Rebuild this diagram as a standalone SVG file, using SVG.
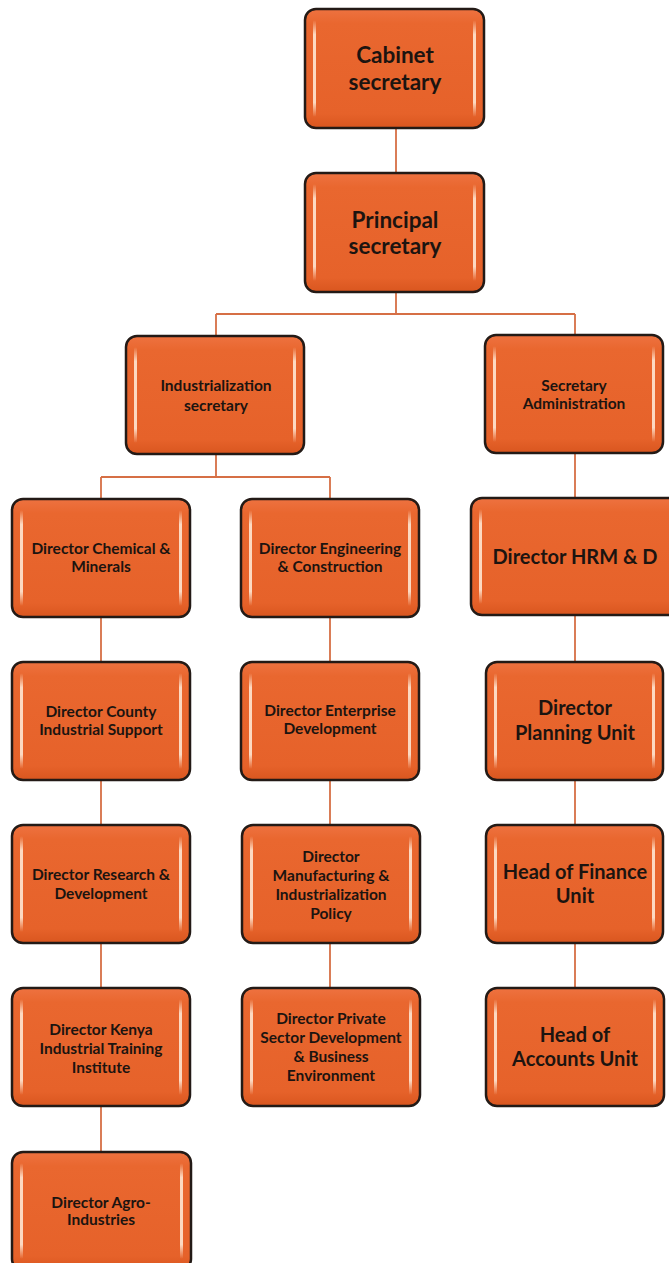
<svg xmlns="http://www.w3.org/2000/svg" width="669" height="1263" viewBox="0 0 669 1263">
<defs>
<linearGradient id="fillg" x1="0" y1="0" x2="0" y2="1">
<stop offset="0" stop-color="#EE7240"/>
<stop offset="0.12" stop-color="#E9672F"/>
<stop offset="0.88" stop-color="#E6622A"/>
<stop offset="1" stop-color="#D9561F"/>
</linearGradient>
<linearGradient id="hl" x1="0" y1="0" x2="0" y2="1">
<stop offset="0" stop-color="#FFE6D2" stop-opacity="0"/>
<stop offset="0.15" stop-color="#FFE6D2" stop-opacity="0.9"/>
<stop offset="0.85" stop-color="#FFE6D2" stop-opacity="0.9"/>
<stop offset="1" stop-color="#FFE6D2" stop-opacity="0"/>
</linearGradient>
</defs>
<style>
.box{fill:url(#fillg);stroke:#231a16;stroke-width:2.5}
.hl{fill:url(#hl)}
.t{font-family:Lato,"Liberation Sans",sans-serif;font-weight:bold;fill:#1c1410;text-anchor:middle}
.s{font-size:15.5px}
.m{font-size:20px}
.b{font-size:22.5px}
.c{fill:none;stroke:#D66F45;stroke-width:1.8}
</style>
<rect width="669" height="1263" fill="#ffffff"/>
<g id="connectors">
<path class="c" d="M396 128V173"/>
<path class="c" d="M396 292V314M216 314H575M216 314V336M575 314V336"/>
<path class="c" d="M216 454V477M101 477H330M101 477V499M330 477V499"/>
<path class="c" d="M575 453V498M575 615V662M575 780V825M575 943V988"/>
<path class="c" d="M101 617V662M101 780V825M101 943V988M101 1106V1151"/>
<path class="c" d="M330 617V662M330 780V825M330 943V988"/>
</g>
<g id="cabinet">
<rect class="box" x="305" y="9" width="179" height="119" rx="11"/>
<rect class="hl" x="313" y="20" width="3" height="97" rx="1.5"/><rect class="hl" x="473" y="20" width="3" height="97" rx="1.5"/>
<text class="t b" x="395" y="63">Cabinet</text><text class="t b" x="395" y="90">secretary</text>
</g>
<g id="principal">
<rect class="box" x="305" y="173" width="179" height="119" rx="11"/>
<rect class="hl" x="313" y="184" width="3" height="97" rx="1.5"/><rect class="hl" x="473" y="184" width="3" height="97" rx="1.5"/>
<text class="t b" x="395" y="228">Principal</text><text class="t b" x="395" y="254">secretary</text>
</g>
<g id="industrialization">
<rect class="box" x="126" y="336" width="178" height="118" rx="11"/>
<rect class="hl" x="134" y="347" width="3" height="96" rx="1.5"/><rect class="hl" x="293" y="347" width="3" height="96" rx="1.5"/>
<text class="t s" x="216" y="391">Industrialization</text><text class="t s" x="216" y="411">secretary</text>
</g>
<g id="secadmin">
<rect class="box" x="485" y="335" width="178" height="118" rx="11"/>
<rect class="hl" x="493" y="346" width="3" height="96" rx="1.5"/><rect class="hl" x="652" y="346" width="3" height="96" rx="1.5"/>
<text class="t s" x="574" y="391">Secretary</text><text class="t s" x="574" y="409">Administration</text>
</g>
<g id="chemical">
<rect class="box" x="12" y="499" width="178" height="118" rx="11"/>
<rect class="hl" x="20" y="510" width="3" height="96" rx="1.5"/><rect class="hl" x="179" y="510" width="3" height="96" rx="1.5"/>
<text class="t s" x="101" y="554">Director Chemical &amp;</text><text class="t s" x="101" y="572">Minerals</text>
</g>
<g id="engineering">
<rect class="box" x="241" y="499" width="178" height="118" rx="11"/>
<rect class="hl" x="249" y="510" width="3" height="96" rx="1.5"/><rect class="hl" x="408" y="510" width="3" height="96" rx="1.5"/>
<text class="t s" x="330" y="554">Director Engineering</text><text class="t s" x="330" y="572">&amp; Construction</text>
</g>
<g id="hrm">
<rect class="box" x="471" y="498" width="210" height="117" rx="11"/>
<rect class="hl" x="479" y="509" width="3" height="95" rx="1.5"/>
<text class="t m" x="575" y="564">Director HRM &amp; D</text>
</g>
<g id="county">
<rect class="box" x="12" y="662" width="178" height="118" rx="11"/>
<rect class="hl" x="20" y="673" width="3" height="96" rx="1.5"/><rect class="hl" x="179" y="673" width="3" height="96" rx="1.5"/>
<text class="t s" x="101" y="717">Director County</text><text class="t s" x="101" y="735">Industrial Support</text>
</g>
<g id="enterprise">
<rect class="box" x="241" y="662" width="178" height="118" rx="11"/>
<rect class="hl" x="249" y="673" width="3" height="96" rx="1.5"/><rect class="hl" x="408" y="673" width="3" height="96" rx="1.5"/>
<text class="t s" x="330" y="716">Director Enterprise</text><text class="t s" x="330" y="734">Development</text>
</g>
<g id="planning">
<rect class="box" x="486" y="662" width="177" height="118" rx="11"/>
<rect class="hl" x="494" y="673" width="3" height="96" rx="1.5"/><rect class="hl" x="652" y="673" width="3" height="96" rx="1.5"/>
<text class="t m" x="575" y="715">Director</text><text class="t m" x="575" y="740">Planning Unit</text>
</g>
<g id="research">
<rect class="box" x="12" y="825" width="178" height="118" rx="11"/>
<rect class="hl" x="20" y="836" width="3" height="96" rx="1.5"/><rect class="hl" x="179" y="836" width="3" height="96" rx="1.5"/>
<text class="t s" x="101" y="880">Director Research &amp;</text><text class="t s" x="101" y="899">Development</text>
</g>
<g id="manufacturing">
<rect class="box" x="242" y="825" width="178" height="118" rx="11"/>
<rect class="hl" x="250" y="836" width="3" height="96" rx="1.5"/><rect class="hl" x="409" y="836" width="3" height="96" rx="1.5"/>
<text class="t s" x="331" y="862">Director</text><text class="t s" x="331" y="881">Manufacturing &amp;</text><text class="t s" x="331" y="900">Industrialization</text><text class="t s" x="331" y="919">Policy</text>
</g>
<g id="finance">
<rect class="box" x="486" y="825" width="177" height="118" rx="11"/>
<rect class="hl" x="494" y="836" width="3" height="96" rx="1.5"/><rect class="hl" x="652" y="836" width="3" height="96" rx="1.5"/>
<text class="t m" x="575" y="879">Head of Finance</text><text class="t m" x="575" y="903">Unit</text>
</g>
<g id="kenya">
<rect class="box" x="12" y="988" width="178" height="118" rx="11"/>
<rect class="hl" x="20" y="999" width="3" height="96" rx="1.5"/><rect class="hl" x="179" y="999" width="3" height="96" rx="1.5"/>
<text class="t s" x="101" y="1035">Director Kenya</text><text class="t s" x="101" y="1054">Industrial Training</text><text class="t s" x="101" y="1073">Institute</text>
</g>
<g id="private">
<rect class="box" x="242" y="988" width="178" height="118" rx="11"/>
<rect class="hl" x="250" y="999" width="3" height="96" rx="1.5"/><rect class="hl" x="409" y="999" width="3" height="96" rx="1.5"/>
<text class="t s" x="331" y="1024">Director Private</text><text class="t s" x="331" y="1043">Sector Development</text><text class="t s" x="331" y="1062">&amp; Business</text><text class="t s" x="331" y="1081">Environment</text>
</g>
<g id="accounts">
<rect class="box" x="486" y="988" width="178" height="118" rx="11"/>
<rect class="hl" x="494" y="999" width="3" height="96" rx="1.5"/><rect class="hl" x="653" y="999" width="3" height="96" rx="1.5"/>
<text class="t m" x="575" y="1042">Head of</text><text class="t m" x="575" y="1066">Accounts Unit</text>
</g>
<g id="agro">
<rect class="box" x="12" y="1152" width="179" height="118" rx="11"/>
<rect class="hl" x="20" y="1163" width="3" height="96" rx="1.5"/><rect class="hl" x="180" y="1163" width="3" height="96" rx="1.5"/>
<text class="t s" x="101" y="1208">Director Agro-</text><text class="t s" x="101" y="1225">Industries</text>
</g>
</svg>
